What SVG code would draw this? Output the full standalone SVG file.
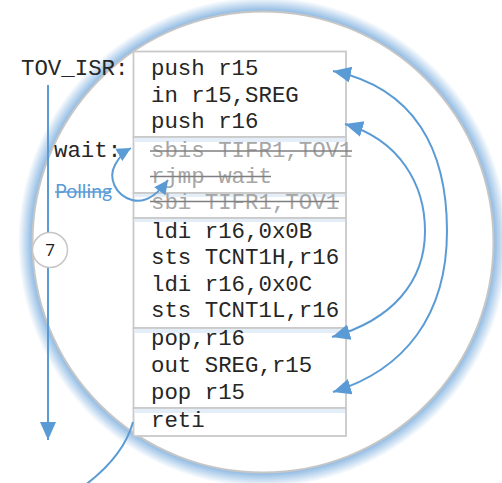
<svg xmlns="http://www.w3.org/2000/svg" width="502" height="483" viewBox="0 0 502 483">
<style>
.code{font-family:"Liberation Mono","Courier New",monospace;font-size:22.4px;fill:#262626}
.dead{font-family:"Liberation Mono","Courier New",monospace;font-size:22.4px;fill:#a6a6a6}
.strike{stroke:#7f7f7f;stroke-width:1.6}
.box{fill:#fff;stroke:#c9c9c9;stroke-width:1.8}
.tint{fill:#e4eef8}
.conn{fill:none;stroke:#5b9bd5;stroke-width:2}
</style>
<defs>
<radialGradient id="glow" gradientUnits="userSpaceOnUse" cx="263" cy="242" r="245">
<stop offset="0" stop-color="#92bce4" stop-opacity="0"/>
<stop offset="0.936" stop-color="#92bce4" stop-opacity="0"/>
<stop offset="0.944" stop-color="#92bce4" stop-opacity="1"/>
<stop offset="1" stop-color="#92bce4" stop-opacity="0"/>
</radialGradient>
<marker id="ah" markerUnits="userSpaceOnUse" markerWidth="20" markerHeight="18" refX="18" refY="8" orient="auto-start-reverse" viewBox="0 0 20 18">
<path d="M0,0 L18,8 L0,16 z" fill="#5b9bd5"/>
</marker>
<marker id="ahs" markerUnits="userSpaceOnUse" markerWidth="16" markerHeight="14" refX="14" refY="7" orient="auto-start-reverse" viewBox="0 0 16 14">
<path d="M0,0 L14,7 L0,14 z" fill="#5b9bd5"/>
</marker>
</defs>
<rect width="502" height="483" fill="#fff"/>
<g id="frame">
<circle cx="263" cy="242" r="245" fill="url(#glow)"/>
<circle cx="263" cy="242" r="230.5" fill="#fff" stroke="#c6c6c6" stroke-width="2"/>
</g>
<g id="prologue">
<rect class="box" x="133.5" y="51.5" width="212.5" height="85.5"/>
<text class="code" x="151" y="75">push r15</text>
<text class="code" x="151" y="101.7">in r15,SREG</text>
<text class="code" x="151" y="128.3">push r16</text>
</g>
<g id="wait-loop">
<rect class="box" x="133.5" y="137" width="212.5" height="56"/>
<rect class="tint" x="134.5" y="138" width="210.5" height="4"/>
<text class="dead" x="151" y="157">sbis TIFR1,TOV1</text>
<line class="strike" x1="150" y1="151" x2="352" y2="151"/>
<text class="dead" x="151" y="182.5">rjmp wait</text>
<line class="strike" x1="150" y1="176.5" x2="271" y2="176.5"/>
</g>
<g id="clear-flag">
<rect class="box" x="133.5" y="193" width="212.5" height="25"/>
<rect class="tint" x="134.5" y="194" width="210.5" height="3"/>
<text class="dead" x="151" y="208.5">sbi TIFR1,TOV1</text>
<line class="strike" x1="150" y1="201.5" x2="339" y2="201.5"/>
</g>
<g id="reload">
<rect class="box" x="133.5" y="218" width="212.5" height="110"/>
<rect class="tint" x="134.5" y="219" width="210.5" height="3"/>
<text class="code" x="151" y="237.5">ldi r16,0x0B</text>
<text class="code" x="151" y="264">sts TCNT1H,r16</text>
<text class="code" x="151" y="290.7">ldi r16,0x0C</text>
<text class="code" x="151" y="317">sts TCNT1L,r16</text>
</g>
<g id="epilogue">
<rect class="box" x="133.5" y="328" width="212.5" height="80"/>
<rect class="tint" x="134.5" y="329" width="210.5" height="4"/>
<text class="code" x="151" y="345">pop,r16</text>
<text class="code" x="151" y="372">out SREG,r15</text>
<text class="code" x="151" y="399">pop r15</text>
</g>
<g id="return">
<rect class="box" x="133.5" y="408" width="212.5" height="28"/>
<rect class="tint" x="134.5" y="409" width="210.5" height="4"/>
<text class="code" x="151" y="426.7">reti</text>
</g>
<g id="labels">
<text class="code" x="21" y="75">TOV_ISR:</text>
<text class="code" x="54" y="157">wait:</text>
<text x="55" y="198" font-family="Lato,'Open Sans',sans-serif" font-size="19.5" fill="#5b9bd5">Polling</text>
<line x1="55" y1="192" x2="111" y2="192" stroke="#5b9bd5" stroke-width="1.6"/>
</g>
<g id="connectors">
<line class="conn" x1="48" y1="85" x2="48" y2="440" marker-end="url(#ah)"/>
<path class="conn" d="M333,71 C415,88 447,150 447,231 C447,315 405,370 333,392" marker-start="url(#ah)" marker-end="url(#ah)"/>
<path class="conn" d="M345,124 C400,140 425,185 425,231 C425,282 392,320 332,337" marker-start="url(#ah)" marker-end="url(#ah)"/>
<path class="conn" d="M168,180 C155,198 143,203 132,200 C115,195 108,178 115,165 C119,157 124,152 131,148" marker-start="url(#ahs)" marker-end="url(#ahs)"/>
<path class="conn" d="M133,422 C126,448 108,468 84,486"/>
</g>
<g id="step-7">
<circle cx="50" cy="250" r="17.5" fill="#fff" stroke="#c6c6c6" stroke-width="1.5"/>
<text x="50" y="256" text-anchor="middle" font-family="'Open Sans',sans-serif" font-size="17" fill="#1a1a1a">7</text>
</g>
</svg>
